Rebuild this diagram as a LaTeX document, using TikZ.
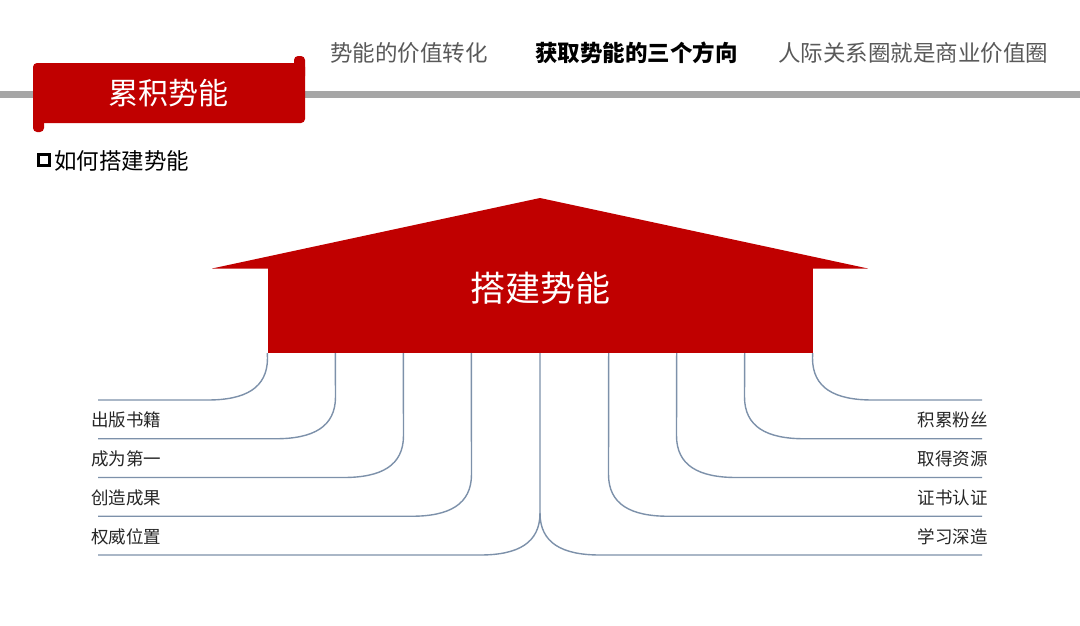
\documentclass[tikz,border=0pt]{standalone}
\usepackage{fontspec}
\setmainfont{Noto Sans CJK SC}
\usetikzlibrary{calc}

\definecolor{tabred}{RGB}{192,0,0}
\definecolor{barGray}{RGB}{166,166,166}
\definecolor{navGray}{RGB}{89,89,89}
\definecolor{branchBlue}{RGB}{125,145,170}
\definecolor{labelInk}{RGB}{38,38,38}

\tikzset{
  navtext/.style={text=navGray, font=\fontsize{22.5}{26}\selectfont, anchor=west, inner sep=0},
  itemtext/.style={text=labelInk, font=\fontsize{17.5}{20}\selectfont, inner sep=0},
  branch/.style={draw=branchBlue, line width=1.4pt},
}

\begin{document}
\begin{tikzpicture}[x=1pt, y=-1pt]
      \useasboundingbox (0,0) rectangle (1080,625);
      \fill[white] (0,0) rectangle (1080,625);

      \fill[barGray] (0,91) rectangle (1080,98);

      \fill[tabred, rounded corners=4pt] (33,63) rectangle (305,123);
      \fill[tabred, rounded corners=4pt] (294,56) rectangle (305,80);
      \fill[tabred, rounded corners=4pt] (33,108) rectangle (44,132);
      \node[text=white, font=\fontsize{30}{34}\selectfont] (tab) at (168,93) {累积势能};

      \node[navtext] (nav1) at (330,53) {势能的价值转化};
      \node[navtext, text=black, font=\bfseries\fontsize{22.5}{26}\selectfont] (nav2) at (535,53) {获取势能的三个方向};
      \node[navtext] (nav3) at (778,53) {人际关系圈就是商业价值圈};

      \node[draw, line width=3pt, minimum size=11pt, inner sep=0] (bullet) at (44,160) {};
      \node[anchor=west, font=\fontsize{22.5}{26}\selectfont, inner sep=0] (howto) at (54,161) {如何搭建势能};

      \fill[tabred] (212,268.5) -- (540,198) -- (868,268.5) -- cycle;
      \node[fill=tabred, minimum width=545pt, minimum height=85pt, inner sep=0] (base) at (540,310.5) {};
      \node[text=white, font=\fontsize{35}{40}\selectfont] (title) at (540,288) {搭建势能};

      \node[itemtext, anchor=west] (left1) at (91,420) {出版书籍};
      \node[itemtext, anchor=west] (left2) at (91,459) {成为第一};
      \node[itemtext, anchor=west] (left3) at (91,498) {创造成果};
      \node[itemtext, anchor=west] (left4) at (91,537) {权威位置};
      \node[itemtext, anchor=east] (right1) at (988,420) {积累粉丝};
      \node[itemtext, anchor=east] (right2) at (988,459) {取得资源};
      \node[itemtext, anchor=east] (right3) at (988,498) {证书认证};
      \node[itemtext, anchor=east] (right4) at (988,537) {学习深造};

      \foreach \k [evaluate=\k as \xl using 267.5+68*\k,
                   evaluate=\k as \xr using 812.5-68*\k,
                   evaluate=\k as \yl using 400+38.75*\k] in {0,...,3} {
        \coordinate (lend\k) at (98,\yl);
        \coordinate (rend\k) at (982,\yl);
        \draw[branch] ($(base.south west)+({68*\k},0)$) -- (\xl,\yl-42)
          .. controls (\xl,\yl-12) and (\xl-22,\yl) .. (\xl-60,\yl) -- (lend\k);
        \draw[branch] ($(base.south east)-({68*\k},0)$) -- (\xr,\yl-42)
          .. controls (\xr,\yl-12) and (\xr+22,\yl) .. (\xr+60,\yl) -- (rend\k);
      }

      \coordinate (fork) at (540,513);
      \coordinate (lend4) at (98,555);
      \coordinate (rend4) at (982,555);
      \draw[branch] (base.south) -- (fork)
        .. controls (540,543) and (518,555) .. (480,555) -- (lend4);
      \draw[branch] (fork)
        .. controls (540,543) and (562,555) .. (600,555) -- (rend4);
\end{tikzpicture}
\end{document}
